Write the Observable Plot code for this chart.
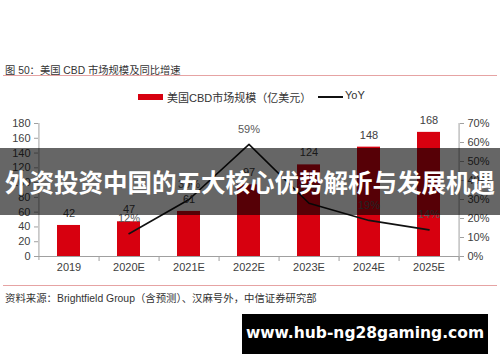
<!DOCTYPE html>
<html>
<head>
<meta charset="utf-8">
<script src="https://cdn.jsdelivr.net/npm/d3@7"></script>
<script src="https://cdn.jsdelivr.net/npm/@observablehq/plot@0.6"></script>
<style>
  html, body { margin: 0; padding: 0; background: #fff; }
  #wrap { position: relative; width: 500px; height: 362px; overflow: hidden; font-family: "Liberation Sans", "Noto Sans CJK SC", sans-serif; color: #333; }
  .abs { position: absolute; white-space: nowrap; }
  #title { left: 5px; top: 62px; font-size: 10.3px; color: #333; }
  #titleLine { left: 3px; top: 75px; width: 494px; height: 1px; background: #e6a3a3; }
  #legend { left: 0; top: 89px; font-size: 11px; color: #333; }
  #srcLine { left: 3px; top: 285px; width: 494px; height: 1px; background: #e6a3a3; }
  #source { left: 5px; top: 290px; font-size: 10.4px; color: #333; }
  #chart { left: 0; top: 110px; }
  #banner { left: 0; top: 148px; width: 500px; height: 67px; background: rgba(0,0,0,0.6); color: #fff; font-family: "Noto Sans CJK SC", sans-serif; font-weight: bold; font-size: 24.5px; line-height: 67px; text-align: center; }
  #url { left: 242px; top: 314px; width: 246px; height: 40px; background: #000; color: #fff; font-family: "DejaVu Sans", sans-serif; font-weight: bold; font-size: 15.5px; line-height: 38px; text-align: center; }
</style>
</head>
<body>
<div id="wrap">
  <div id="title" class="abs">图 50：美国 CBD 市场规模及同比增速</div>
  <div id="titleLine" class="abs"></div>
  <div id="legend" class="abs"></div>
  <div id="chart" class="abs"></div>
  <div id="srcLine" class="abs"></div>
  <div id="source" class="abs">资料来源：Brightfield Group（含预测）、汉麻号外，中信证券研究部</div>
  <div id="banner" class="abs">外资投资中国的五大核心优势解析与发展机遇</div>
  <div id="url" class="abs">www.hub-ng28gaming.com</div>
</div>
<script>
const categories = ["2019", "2020E", "2021E", "2022E", "2023E", "2024E", "2025E"];
const marketSize = [42, 47, 61, 97, 124, 148, 168];
const yoyPct = [null, 12, 30, 59, 28, 19, 14];
const leftTicks = [0, 20, 40, 60, 80, 100, 120, 140, 160, 180];
const rightTicks = [0, 10, 20, 30, 40, 50, 60, 70];
const seriesNames = ["美国CBD市场规模（亿美元）", "YoY"];

const barColor = "#d7000f";
const leftMax = 180, rightMax = 70;
const toLeft = p => p * leftMax / rightMax;

const rows = categories.map((c, i) => ({cat: c, size: marketSize[i], yoy: yoyPct[i]}));
const yoyRows = rows.filter(d => d.yoy != null);

const W = 500, H = 170, mL = 38, mR = 41, mT = 13, mB = 24;
const step = (W - mL - mR) / categories.length;
const axisColor = "#a0a0a0";
const textColor = "#404040";

const plot = Plot.plot({
  width: W, height: H,
  marginLeft: mL, marginRight: mR, marginTop: mT, marginBottom: mB,
  style: {fontSize: "11px", fontFamily: "Liberation Sans, Noto Sans CJK SC, sans-serif", color: textColor, background: "transparent", overflow: "visible"},
  x: {domain: categories, paddingInner: 0.62, paddingOuter: 0.31, label: null},
  y: {domain: [0, leftMax], label: null},
  marks: [
    Plot.barY(rows, {x: "cat", y: "size", fill: barColor}),
    Plot.ruleY([0], {stroke: axisColor}),
    Plot.ruleX([categories[0]], {y1: -5.4, y2: leftMax, dx: -step / 2, stroke: axisColor}),
    Plot.ruleX([categories[categories.length - 1]], {y1: -5.4, y2: leftMax, dx: step / 2, stroke: axisColor}),
    Plot.axisX({tickSize: 5, tickFormat: () => "", dx: step / 2, stroke: axisColor, label: null}),
    Plot.axisX({tickSize: 0, tickPadding: 7, label: null, fill: textColor}),
    Plot.axisY(leftTicks, {anchor: "left", tickSize: 4, tickPadding: 4, stroke: axisColor, fill: textColor, label: null}),
    Plot.axisY(rightTicks.map(toLeft), {anchor: "right", tickSize: 4, tickPadding: 4, stroke: axisColor, fill: textColor, label: null,
      tickFormat: d => Math.round(d * rightMax / leftMax) + "%"}),
    Plot.line(yoyRows, {x: "cat", y: d => toLeft(d.yoy), stroke: "#111", strokeWidth: 1.6}),
    Plot.text(rows, {x: "cat", y: "size", text: d => String(d.size), dy: -12, fill: textColor}),
    Plot.text(yoyRows, {x: "cat", y: d => toLeft(d.yoy), text: d => d.yoy + "%", dy: -15, fill: "#595959"})
  ]
});
document.getElementById("chart").appendChild(plot);

const legend = document.getElementById("legend");
legend.innerHTML =
  `<span class="abs" style="left:138px;top:5px;width:25px;height:6px;background:${barColor}"></span>` +
  `<span class="abs" style="left:167px;top:0px">${seriesNames[0]}</span>` +
  `<span class="abs" style="left:318px;top:7px;width:25px;height:1.5px;background:#111"></span>` +
  `<span class="abs" style="left:345px;top:0px">${seriesNames[1]}</span>`;
</script>
</body>
</html>
